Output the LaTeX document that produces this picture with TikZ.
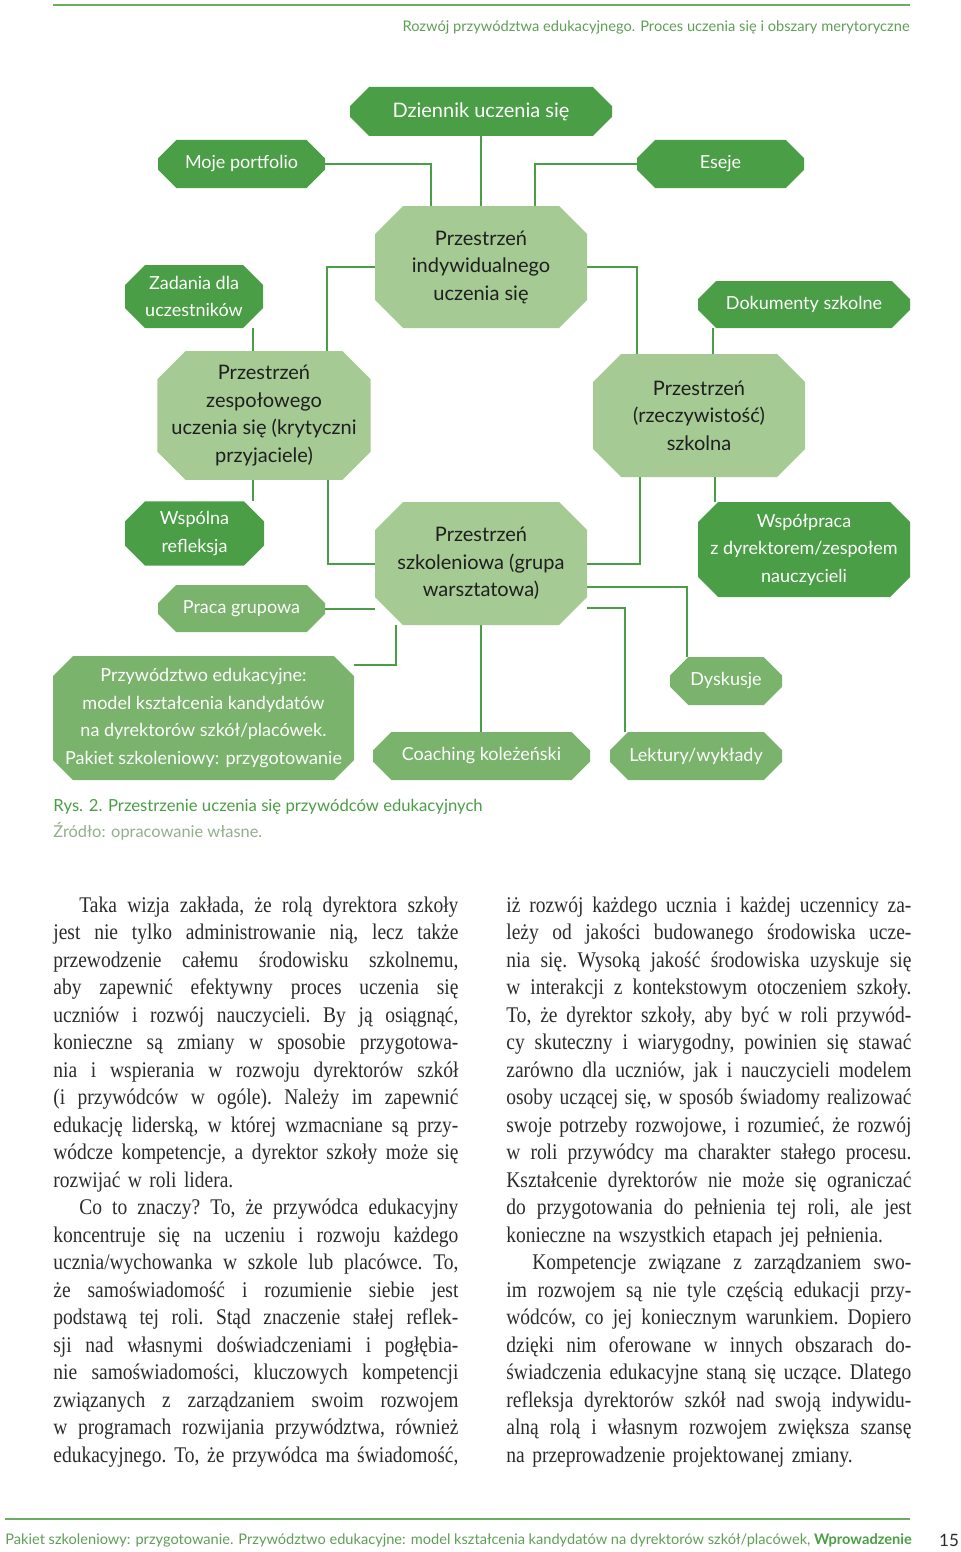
\documentclass[tikz,border=0pt]{standalone}
\usepackage{fontspec}
\setmainfont[FakeStretch=0.87]{Liberation Serif}
\newfontfamily\latofont{Lato}
\usepackage{xcolor}
\definecolor{DarkGreen}{HTML}{4A9E45}
\definecolor{MidGreen}{HTML}{7AB36C}
\definecolor{PaleGreen}{HTML}{A5CA94}
\definecolor{HeadGreen}{HTML}{5E9F55}
\definecolor{RuleGreen}{HTML}{6CAD61}
\definecolor{SourceGray}{HTML}{93AE8C}
\definecolor{BodyGray}{HTML}{2B2B2B}
\usepackage{tikz}
\usetikzlibrary{calc, positioning, shapes.misc}
\newcommand{\fullline}[1]{\hbox to 202.5pt{\spaceskip=\fontdimen2\font plus 1fil minus 0.1em #1}}
\newcommand{\lastline}[1]{\hbox{#1}}

\tikzset{
  box/.style={chamfered rectangle, chamfered rectangle xsep=5pt, chamfered rectangle ysep=5pt,
    inner sep=0pt, align=center, font=\latofont\fontsize{9}{13.75}\selectfont},
  darkbox/.style={box, fill=DarkGreen, text=white},
  midbox/.style={box, fill=MidGreen, text=white},
  palebox/.style={box, fill=PaleGreen, text=black!88, chamfered rectangle xsep=7pt, chamfered rectangle ysep=7pt,
    font=\latofont\fontsize{10}{13.75}\selectfont},
  link/.style={draw=DarkGreen, line width=1pt},
  column/.style={anchor=base west, inner sep=0pt, text width=202.5pt, text=BodyGray,
    font=\fontsize{11.2}{13.75}\selectfont\frenchspacing}
}

\begin{document}
\begin{tikzpicture}[x=0.5pt, y=-0.5pt]
  \useasboundingbox (0,0) rectangle (960,1552);
  % header
  \draw[RuleGreen, line width=1pt] (53,5) -- (910,5);
  \node[anchor=east, inner sep=0pt, text=HeadGreen, font=\latofont\fontsize{7.33}{9}\selectfont] (header) at (910,27)
    {Rozwój przywództwa edukacyjnego. Proces uczenia się i obszary merytoryczne};

  % boxes
  \node[darkbox, minimum width=131pt, minimum height=24.5pt, font=\latofont\fontsize{10}{12}\selectfont] (dziennik) at (481,111.5) {Dziennik uczenia się};
  \node[darkbox, minimum width=83.5pt, minimum height=24pt] (portfolio) at (241.5,164) {Moje portfolio};
  \node[darkbox, minimum width=83.5pt, minimum height=24pt] (eseje) at (720.5,164) {Eseje};
  \node[palebox, minimum width=106pt, minimum height=61pt] (indyw) at (481,267) {Przestrzeń\\indywidualnego\\uczenia się};
  \node[darkbox, minimum width=69pt, minimum height=31.5pt] (zadania) at (194,296.5) {Zadania dla\\uczestników};
  \node[darkbox, minimum width=106pt, minimum height=23.5pt] (dokumenty) at (804,304.5) {Dokumenty szkolne};
  \node[palebox, minimum width=106pt, minimum height=61.5pt] (zesp) at (264,415.5) {Przestrzeń\\zespołowego\\uczenia się (krytyczni\\przyjaciele)};
  \node[palebox, minimum width=106pt, minimum height=61.5pt] (rzecz) at (699,415.5) {Przestrzeń\\(rzeczywistość)\\szkolna};
  \node[darkbox, minimum width=69.5pt, minimum height=31.5pt] (wspolna) at (194.5,533.5) {Wspólna\\refleksja};
  \node[palebox, minimum width=106pt, minimum height=61.5pt] (szkol) at (481,563.5) {Przestrzeń\\szkoleniowa (grupa\\warsztatowa)};
  \node[darkbox, minimum width=106pt, minimum height=47.5pt] (wspolpraca) at (804,549.5) {Współpraca\\z dyrektorem/zespołem\\nauczycieli};
  \node[midbox, minimum width=83.5pt, minimum height=23.5pt] (praca) at (241.5,608.5) {Praca grupowa};
  \node[midbox, minimum width=150.5pt, minimum height=62pt] (przyw) at (203.5,718) {Przywództwo edukacyjne:\\model kształcenia kandydatów\\na dyrektorów szkół/placówek.\\Pakiet szkoleniowy: przygotowanie};
  \node[midbox, minimum width=56pt, minimum height=24pt] (dyskusje) at (726,681) {Dyskusje};
  \node[midbox, minimum width=108.5pt, minimum height=24pt] (coaching) at (481.5,756) {Coaching koleżeński};
  \node[midbox, minimum width=86pt, minimum height=24pt] (lektury) at (696,756) {Lektury/wykłady};

  % connectors
  \coordinate (zadaniaFoot) at ($(zadania.south)+(59,0)$);
  \coordinate (dokumentyFoot) at ($(dokumenty.south)+(-91,0)$);
  \coordinate (zespLeftFoot) at ($(zesp.south)+(-11,0)$);
  \coordinate (zespRightFoot) at ($(zesp.south)+(64,0)$);
  \coordinate (rzeczLeftFoot) at ($(rzecz.south)+(-59,0)$);
  \coordinate (rzeczRightFoot) at ($(rzecz.south)+(16,0)$);
  \coordinate (szkolLeftFoot) at ($(szkol.south)+(-85,0)$);
  \draw[link] (dziennik.south) -- (dziennik.south |- indyw.north);
  \draw[link] (portfolio.east) -| ($(indyw.north)+(-50,0)$);
  \draw[link] (eseje.west) -| ($(indyw.north)+(54,0)$);
  \draw[link] (indyw.west) -| ($(zesp.north)+(63,0)$);
  \draw[link] (indyw.east) -| ($(rzecz.north)+(-62,0)$);
  \draw[link] (zadaniaFoot) -- (zadaniaFoot |- zesp.north);
  \draw[link] (dokumentyFoot) -- (dokumentyFoot |- rzecz.north);
  \draw[link] (zespLeftFoot) -- (zespLeftFoot |- wspolna.north);
  \draw[link] (zespRightFoot) |- (szkol.west);
  \draw[link] (rzeczLeftFoot) |- (szkol.east);
  \draw[link] (rzeczRightFoot) -- (rzeczRightFoot |- wspolpraca.north);
  \draw[link] (praca.east) -- (praca.east -| szkol.west);
  \draw[link] ($(szkol.east)+(0,23.5)$) -| ($(dyskusje.north)+(-39,0)$);
  \draw[link] ($(szkol.east)+(0,44.5)$) -| ($(lektury.north)+(-71,0)$);
  \draw[link] (szkolLeftFoot) |- ($(przyw.east)+(0,-53)$);
  \draw[link] (szkol.south) -- (szkol.south |- coaching.north);

  % caption
  \node[anchor=west, inner sep=0pt, text=DarkGreen, font=\latofont\fontsize{8.33}{10}\selectfont] (caption) at (53,807)
    {Rys. 2. Przestrzenie uczenia się przywódców edukacyjnych};
  \node[anchor=west, inner sep=0pt, text=SourceGray, font=\latofont\fontsize{8.2}{10}\selectfont] (source) at (53,831)
    {Źródło: opracowanie własne.};

  % text columns
  \node[column] (leftcol) at (53,912) {%
    \fullline{\hspace*{13pt}Taka wizja zakłada, że rolą dyrektora szkoły}
    \fullline{jest nie tylko administrowanie nią, lecz także}
    \fullline{przewodzenie całemu środowisku szkolnemu,}
    \fullline{aby zapewnić efektywny proces uczenia się}
    \fullline{uczniów i rozwój nauczycieli. By ją osiągnąć,}
    \fullline{konieczne są zmiany w sposobie przygotowa-}
    \fullline{nia i wspierania w rozwoju dyrektorów szkół}
    \fullline{(i przywódców w ogóle). Należy im zapewnić}
    \fullline{edukację liderską, w której wzmacniane są przy-}
    \fullline{wódcze kompetencje, a dyrektor szkoły może się}
    \lastline{rozwijać w roli lidera.}
    \fullline{\hspace*{13pt}Co to znaczy? To, że przywódca edukacyjny}
    \fullline{koncentruje się na uczeniu i rozwoju każdego}
    \fullline{ucznia/wychowanka w szkole lub placówce. To,}
    \fullline{że samoświadomość i rozumienie siebie jest}
    \fullline{podstawą tej roli. Stąd znaczenie stałej reflek-}
    \fullline{sji nad własnymi doświadczeniami i pogłębia-}
    \fullline{nie samoświadomości, kluczowych kompetencji}
    \fullline{związanych z zarządzaniem swoim rozwojem}
    \fullline{w programach rozwijania przywództwa, również}
    \fullline{edukacyjnego. To, że przywódca ma świadomość,}};
  \node[column] (rightcol) at (506,912) {%
    \fullline{iż rozwój każdego ucznia i każdej uczennicy za-}
    \fullline{leży od jakości budowanego środowiska ucze-}
    \fullline{nia się. Wysoką jakość środowiska uzyskuje się}
    \fullline{w interakcji z kontekstowym otoczeniem szkoły.}
    \fullline{To, że dyrektor szkoły, aby być w roli przywód-}
    \fullline{cy skuteczny i wiarygodny, powinien się stawać}
    \fullline{zarówno dla uczniów, jak i nauczycieli modelem}
    \fullline{osoby uczącej się, w sposób świadomy realizować}
    \fullline{swoje potrzeby rozwojowe, i rozumieć, że rozwój}
    \fullline{w roli przywódcy ma charakter stałego procesu.}
    \fullline{Kształcenie dyrektorów nie może się ograniczać}
    \fullline{do przygotowania do pełnienia tej roli, ale jest}
    \lastline{konieczne na wszystkich etapach jej pełnienia.}
    \fullline{\hspace*{13pt}Kompetencje związane z zarządzaniem swo-}
    \fullline{im rozwojem są nie tyle częścią edukacji przy-}
    \fullline{wódców, co jej koniecznym warunkiem. Dopiero}
    \fullline{dzięki nim oferowane w innych obszarach do-}
    \fullline{świadczenia edukacyjne staną się uczące. Dlatego}
    \fullline{refleksja dyrektorów szkół nad swoją indywidu-}
    \fullline{alną rolą i własnym rozwojem zwiększa szansę}
    \lastline{na przeprowadzenie projektowanej zmiany.}};

  % footer
  \draw[RuleGreen, line width=1pt] (5,1519) -- (910,1519);
  \node[anchor=west, inner sep=0pt, text=HeadGreen, font=\latofont\fontsize{7.3}{9}\selectfont] (footer) at (5,1540)
    {Pakiet szkoleniowy: przygotowanie. Przywództwo edukacyjne: model kształcenia kandydatów na dyrektorów szkół/placówek, \textcolor{DarkGreen}{\bfseries Wprowadzenie}};
  \node[inner sep=0pt, text=BodyGray, font=\latofont\fontsize{8.5}{10}\selectfont] (pagenum) at (949,1540) {15};
\end{tikzpicture}
\end{document}
